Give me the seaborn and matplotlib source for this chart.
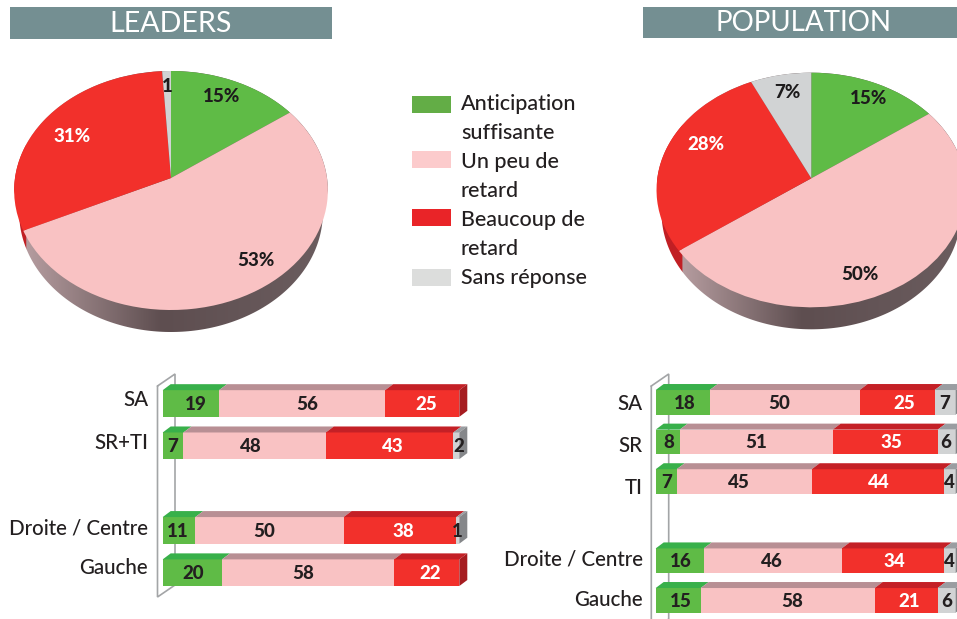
import numpy as np
import matplotlib
matplotlib.use('Agg')
import matplotlib.pyplot as plt
import seaborn as sns
from matplotlib.colors import LinearSegmentedColormap
from matplotlib.patches import Polygon, Rectangle
from matplotlib.transforms import Transform, ScaledTranslation

# Pie values (clockwise from the top)
pie_leaders = [15, 53, 31, 1]
pie_population = [15, 50, 28, 7]

legend_labels = ['Anticipation\nsuffisante', 'Un peu de\nretard', 'Beaucoup de\nretard', 'Sans réponse']

# Bar values, empty category is the gap between the two groups
leaders_cats = ['SA', 'SR+TI', '', 'Droite / Centre', 'Gauche']
leaders_green = [19, 7, 0, 11, 20]
leaders_pink = [56, 48, 0, 50, 58]
leaders_red = [25, 43, 0, 38, 22]
leaders_grey = [0, 2, 0, 1, 0]

population_cats = ['SA', 'SR', 'TI', '', 'Droite / Centre', 'Gauche']
population_green = [18, 8, 7, 0, 16, 15]
population_pink = [50, 51, 45, 0, 46, 58]
population_red = [25, 35, 44, 0, 34, 21]
population_grey = [7, 6, 4, 0, 4, 6]

# Layout only: the labels in the original are not centred, shifts in pixels per row then series
leaders_nudge = [[5, 5, 4, 0], [0, -4, 3, 2], [0, 0, 0, 0], [-1, -5, 3, 0], [1, -5, 3, 0]]
population_nudge = [[2, -6, 7, -1], [1, 0, 6, -1], [0, -5, 1, 0], [0, 0, 0, 0], [1, -1, 2, 0], [3, 4, 3, 0]]
leaders_tick_shift = [5, 5, 0, 4, 7]
population_tick_shift = [0, -2, -4, 0, 3, 2.5]

GREEN, PINK, RED, GREY = '#5fbb46', '#f9c2c3', '#f2302b', '#d1d3d4'
COLORS = [GREEN, PINK, RED, GREY]
TOP_FACE = ['#38b04a', '#b88f94', '#c42026', '#9a9da1']
SIDE_FACE = ['#2f8f3c', '#a58084', '#a61c20', '#85878a']
INK = '#231f20'
FONT = 'Lato'
W, H = 957, 619

sns.set_theme(style='white')
plt.rcParams['font.family'] = [FONT, 'DejaVu Sans']

fig = plt.figure(figsize=(W / 100, H / 100), dpi=100)


def px_axes(left, top, width, height, **kw):
    # axes placed with the pixel coordinates of the picture
    return fig.add_axes([left / W, 1 - (top + height) / H, width / W, height / H], **kw)


class Tilt(Transform):
    # perspective view of the flat pie: the apex is not the centre of the ellipse
    input_dims = 2
    output_dims = 2

    def __init__(self, k, squash):
        super().__init__()
        self.k = k
        self.squash = squash

    def transform_non_affine(self, values):
        values = np.asarray(values)
        w = 1 + self.k * values[:, 1]
        return np.column_stack([values[:, 0] / w, self.squash * values[:, 1] / w])


def draw_pie(values, cx, cy, radius, up, down, depth):
    k = (down - up) / (down + up)
    squash = up * (1 + k) / radius
    ax = px_axes(cx - 1.2 * radius, cy - 1.2 * radius, 2.4 * radius, 2.4 * radius, zorder=1)
    wedges, _ = ax.pie(values, colors=COLORS, startangle=90, counterclock=False,
                       wedgeprops={'linewidth': 0})
    tilt = Tilt(k, squash)
    for w in wedges:
        w.set_transform(tilt + ax.transData)
        w.set_zorder(3)

    # side of the pie: gradient clipped to the rim pushed down, the far face is a bit narrower
    t = np.linspace(0, 2 * np.pi, 361)
    rim = tilt.transform_non_affine(np.column_stack([np.sin(t), np.cos(t)]))
    left, right = rim[:, 0].min(), rim[:, 0].max()
    i_right, i_left = rim[:, 0].argmax(), rim[:, 0].argmin()
    drop = depth / radius
    lower = (rim[i_right:i_left + 1] - [0, drop]) * [0.968, 1]
    outline = np.vstack([rim[:i_right + 1], lower, rim[i_left:]])
    clip = Polygon(outline, closed=True, transform=ax.transData, facecolor='none', edgecolor='none')
    ax.add_patch(clip)
    angle = 2 * np.pi * sum(values[:2]) / sum(values)
    edge = tilt.transform_non_affine(np.array([[np.sin(angle), np.cos(angle)]]))[0, 0]
    frac = (edge - left) / (right - left) + 0.008
    cmap = LinearSegmentedColormap.from_list('rim', [(0, '#c11f24'), (frac, '#c11f24'),
                                                     (frac + 0.001, '#b59c9f'), (0.47, '#5e4e50'),
                                                     (1, '#6b5d5f')])
    im = ax.imshow(np.linspace(0, 1, 512)[None, :], cmap=cmap, vmin=0, vmax=1, aspect='auto',
                   extent=(left, right, -1.2, 1.2), zorder=1)
    im.set_clip_path(clip)
    ax.set_xlim(-1.2, 1.2)
    ax.set_ylim(-1.2, 1.2)
    ax.set_aspect('auto')
    ax.axis('off')


def draw_bars(cats, series, nudge, tick_shift, left_px, top_px, width_px, height_px, bar_h, pad):
    ax = px_axes(left_px, top_px, width_px, height_px, zorder=1)
    lefts = np.zeros(len(cats))
    starts = []
    for vals, color in zip(series, COLORS):
        sns.barplot(x=vals, y=cats, color=color, saturation=1, left=lefts.copy(), width=bar_h,
                    orient='y', order=cats, errorbar=None, linewidth=0, ax=ax)
        starts.append(lefts.copy())
        lefts = lefts + np.array(vals)
    ax.set_xlim(0, 100)
    ax.patch.set_visible(False)
    sns.despine(ax=ax, left=True, bottom=True)
    ax.set_xticks([])
    ax.set_xlabel('')
    ax.set_ylabel('')
    ax.tick_params(axis='y', length=0, pad=pad, labelsize=14.8, labelcolor=INK)
    for lab, shift in zip(ax.get_yticklabels(), tick_shift):
        lab.set_fontweight('medium')
        lab.set_transform(lab.get_transform() + ScaledTranslation(0, shift / 100, fig.dpi_scale_trans))

    # fake 3D faces taken from the bars just drawn
    dx = 8 * 100 / width_px
    dy = 6 * len(cats) / height_px
    n = len(cats)
    bars = list(ax.patches)
    for row in range(n):
        last = None
        for s in range(4):
            b = bars[s * n + row]
            if b.get_width() <= 0:
                continue
            x0, x1 = b.get_x(), b.get_x() + b.get_width()
            y0 = b.get_y()
            ax.add_patch(Polygon([(x0, y0), (x0 + dx, y0 - dy), (x1 + dx, y0 - dy), (x1, y0)],
                                 facecolor=TOP_FACE[s], edgecolor='none', clip_on=False, zorder=1.5))
            last = (b, s)
        if last:
            b, s = last
            x1 = b.get_x() + b.get_width()
            y0, y1 = b.get_y(), b.get_y() + b.get_height()
            ax.add_patch(Polygon([(x1, y0), (x1 + dx, y0 - dy), (x1 + dx, y1 - dy), (x1, y1)],
                                 facecolor=SIDE_FACE[s], edgecolor='none', clip_on=False, zorder=1.5))
        for s in range(4):
            v = series[s][row]
            if v > 0:
                ax.text(starts[s][row] + v / 2 + nudge[row][s] * 100 / width_px, row + 0.02, str(v),
                        ha='center', va='center', fontsize=13.5, fontweight='black', clip_on=False,
                        zorder=4, color='white' if s == 2 else INK)
    return ax


# Background layer: headers, legend, bar frames
bg = fig.add_axes([0, 0, 1, 1], zorder=0)
bg.set_xlim(0, W)
bg.set_ylim(H, 0)
bg.axis('off')
for x, w, y, h, mid, size, title in [(10, 322, 7, 32, 171, 20.6, 'LEADERS'),
                                     (643, 314, 7, 31, 804, 20, 'POPULATION')]:
    bg.add_patch(Rectangle((x, y), w, h, facecolor='#748f92', edgecolor='none'))
    bg.text(mid, y + h / 2 + 0.5, title, color='white', fontsize=size, ha='center', va='center')

legend_y = [96, 151, 209, 269]
legend_colors = ['#63ad46', '#fccbcc', '#e92428', '#dcdddc']
text_y = [104, 162, 220, 278]
for y, ty, color, label in zip(legend_y, text_y, legend_colors, legend_labels):
    bg.add_patch(Rectangle((412, y), 39, 17, facecolor=color, edgecolor='none'))
    for i, line in enumerate(label.split('\n')):
        bg.text(461, ty + 29 * i, line, color=INK, fontsize=15.5, fontweight='medium', va='center', ha='left')

for front, back, top, bottom in [(157.5, 175, 386, 597), (651.3, 668.7, 386, 631)]:
    bg.plot([front, back, back, front, front], [top, top - 12, bottom - 12, bottom, top],
            color='#a3a5a7', lw=1.2, solid_joinstyle='miter', clip_on=True)

draw_pie(pie_leaders, 171, 178, 156, 107, 132, 22)
draw_pie(pie_population, 811.3, 178.3, 154, 105.6, 129, 22)

draw_bars(leaders_cats, [leaders_green, leaders_pink, leaders_red, leaders_grey], leaders_nudge,
          leaders_tick_shift, 162.7, 382.35, 296.6, 211.5, 0.63, 10.5)
draw_bars(population_cats, [population_green, population_pink, population_red, population_grey],
          population_nudge, population_tick_shift, 655.7, 382.5, 300, 237.6, 0.62, 9.5)

# Top layer: pie labels
fg = fig.add_axes([0, 0, 1, 1], zorder=5)
fg.set_xlim(0, W)
fg.set_ylim(H, 0)
fg.axis('off')
leaders_pos = [(222, 96), (256, 260), (72, 137), (167, 86)]
population_pos = [(869, 98), (860, 274), (706, 145), (787, 92)]
for vals, pos in [(pie_leaders, leaders_pos), (pie_population, population_pos)]:
    for i, (v, (x, y)) in enumerate(zip(vals, pos)):
        fg.text(x, y, f'{v}%' if v > 1 else str(v), ha='center', va='center', fontsize=13.5,
                fontweight='black', color='white' if i == 2 else '#1d1b1c')

fig.savefig('out.png', dpi=100)
